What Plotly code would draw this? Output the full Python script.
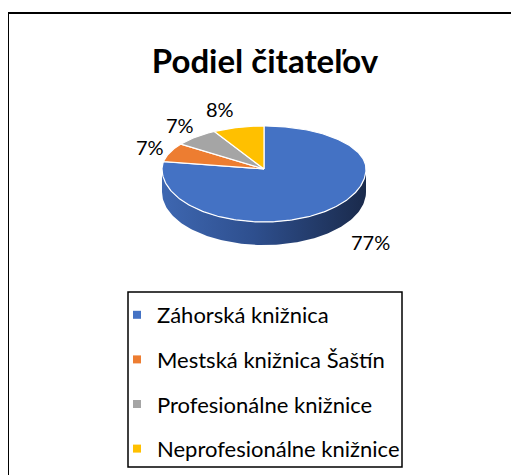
import numpy as np
import plotly.graph_objects as go

# ---- data ----
categories = ["Záhorská knižnica", "Mestská knižnica Šaštín",
              "Profesionálne knižnice", "Neprofesionálne knižnice"]
values = [77, 7, 7, 8]
colors = ["#4472C4", "#ED7D31", "#A5A5A5", "#FFC000"]
title_text = "Podiel čitateľov"

# ---- layout geometry (pixel space of the 519x475 window) ----
OFF = 8                      # default body margin of the html page
W, H = 519, 475
FW, FH = W - OFF, H - OFF    # figure size
cx, cy = 264, 169
rx = 102
ry_back, ry_front = 43, 53
depth = 23
label_pos = [(370, 242), (150, 147), (180, 125), (220, 109)]


def px2paper_x(x):
    return (x - OFF) / FW


def px2paper_y(y):
    return 1 - (y - OFF) / FH


def pt(theta_deg):
    t = np.radians(theta_deg)
    ry = np.where(np.cos(t) > 0, ry_back, ry_front)
    return cx + rx * np.sin(t), cy - ry * np.cos(t)


total = sum(values)
fig = go.Figure()

# side (front wall) of the pie
th = np.linspace(90, 270, 120)
xs, ys = pt(th)
side_x = np.concatenate([xs, xs[::-1], xs[:1]])
side_y = np.concatenate([ys, ys[::-1] + depth, ys[:1]])
fig.add_trace(go.Scatter(
    x=side_x, y=side_y, mode="lines", fill="toself",
    line=dict(width=0, color="rgba(0,0,0,0)"),
    fillgradient=dict(type="horizontal",
                      colorscale=[[0, "#3E67B1"], [0.45, "#2E4F8E"], [1, "#1A2A4B"]]),
    showlegend=False, hoverinfo="skip"))

# top face slices
start = 0.0
for name, v, c in zip(categories, values, colors):
    span = 360.0 * v / total
    th = np.linspace(start, start + span, max(int(span), 2) + 1)
    ax_, ay_ = pt(th)
    px = np.concatenate([[cx], ax_, [cx]])
    py = np.concatenate([[cy], ay_, [cy]])
    fig.add_trace(go.Scatter(
        x=px, y=py, mode="lines", fill="toself", fillcolor=c,
        line=dict(color="white", width=1.2),
        showlegend=False, hoverinfo="skip"))
    start += span

# legend entries
for i, (name, c) in enumerate(zip(categories, colors)):
    fig.add_trace(go.Scatter(
        x=[None], y=[None], mode="markers", name=name, legendgroup=f"g{i}",
        marker=dict(symbol="square", size=8, color=c)))

# percent labels
for (lx, ly), v in zip(label_pos, values):
    fig.add_annotation(x=lx, y=ly, text=f"{v}%", showarrow=False,
                       font=dict(family="Lato", size=20, color="#000000"),
                       xanchor="center", yanchor="middle")

fig.update_layout(
    width=FW, height=FH,
    margin=dict(l=0, r=0, t=0, b=0),
    paper_bgcolor="white", plot_bgcolor="white",
    xaxis=dict(range=[OFF, W], visible=False, fixedrange=True),
    yaxis=dict(range=[H, OFF], visible=False, fixedrange=True),
    title=dict(text=f"<b>{title_text}</b>", x=px2paper_x(265), xanchor="center",
               y=px2paper_y(61), yanchor="middle",
               font=dict(family="Lato", size=33, color="#000000")),
    legend=dict(x=px2paper_x(117), y=px2paper_y(294), xanchor="left", yanchor="top",
                bgcolor="rgba(0,0,0,0)", borderwidth=0,
                font=dict(family="Lato", size=22, color="#000000"),
                traceorder="grouped", tracegroupgap=13, itemwidth=30),
    shapes=[
        dict(type="rect", xref="x", yref="y", x0=128, x1=402, y0=292, y1=467,
             line=dict(color="black", width=1.5)),
        dict(type="rect", xref="x", yref="y", x0=8, x1=W + 20, y0=13, y1=H + 20,
             line=dict(color="black", width=2)),
    ],
)

fig.write_html("out.html")
